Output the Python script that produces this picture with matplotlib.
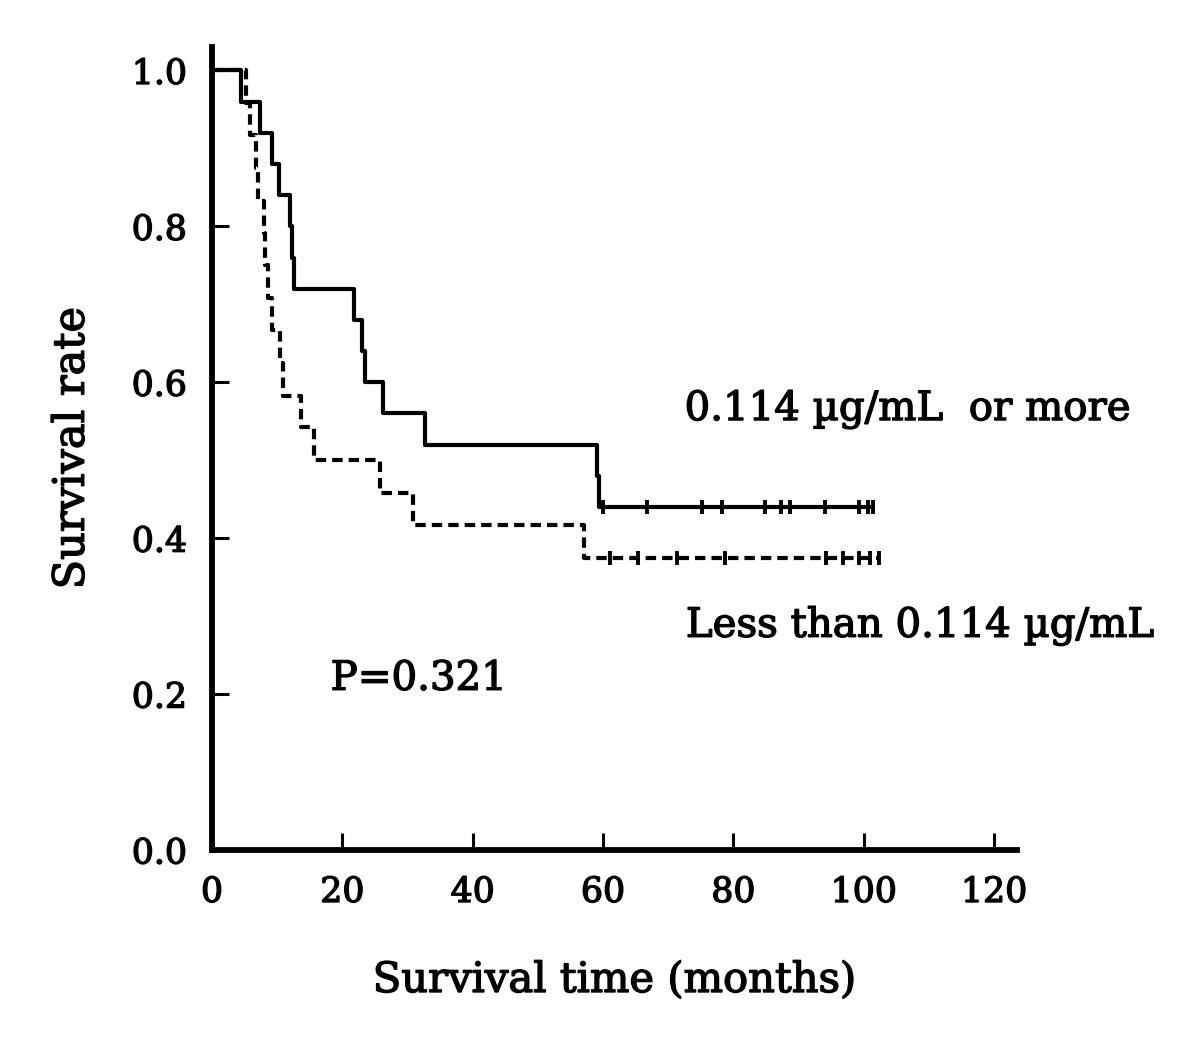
import numpy as np
import matplotlib
matplotlib.use('Agg')
import matplotlib.pyplot as plt
import matplotlib.patheffects as pe

# Kaplan-Meier steps (months, survival)
high_death_t = [0, 4.5, 7.4, 9.2, 10.3, 12.0, 12.3, 12.6, 21.8, 23.0, 23.4, 26.3, 32.7, 59.0, 59.4]
high_surv = [1.0, 0.96, 0.92, 0.88, 0.84, 0.80, 0.76, 0.72, 0.68, 0.64, 0.60, 0.56, 0.52, 0.48, 0.44]
high_censor = [60.0, 66.8, 75.1, 78.2, 84.8, 87.3, 88.7, 94.1, 99.2, 100.6, 101.4]

low_death_t = [0, 5.2, 5.9, 6.7, 7.1, 7.9, 8.2, 8.6, 9.2, 10.5, 10.9, 13.6, 15.7, 25.7, 30.8, 57.0]
low_surv = [1.0, 0.958, 0.917, 0.875, 0.833, 0.792, 0.750, 0.708, 0.667, 0.625, 0.583, 0.542, 0.500,
            0.458, 0.417, 0.375]
low_censor = [61.0, 65.3, 71.4, 78.7, 94.2, 96.8, 99.3, 100.9, 102.4]

x_ticks = [0, 20, 40, 60, 80, 100, 120]
y_ticks = [0.0, 0.2, 0.4, 0.6, 0.8, 1.0]

plt.rcParams['font.family'] = ['DejaVu Serif']
# slightly heavier strokes, the original type is a bit darker than DejaVu Serif
heavy = [pe.withStroke(linewidth=1.0, foreground='black')]

fig = plt.figure(figsize=(12, 10.41), dpi=100)
ax = fig.add_axes([0.1767, 0.1835, 0.8475 - 0.1767, 0.9548 - 0.1835])


def km_line(death_t, surv, censor, dashed):
    t_end = censor[-1]
    xs = list(death_t) + [t_end]
    ys = list(surv) + [surv[-1]]
    line, = ax.step(xs, ys, where='post', color='black', lw=3.0)
    if dashed:
        line.set_dashes((2.5, 1.45))
    ax.plot(censor, [surv[-1]] * len(censor), ls='none', marker='|',
            ms=10, mew=2.8, color='black')


km_line(high_death_t, high_surv, high_censor, False)
km_line(low_death_t, low_surv, low_censor, True)

ax.set_xlim(0, 123.5)
ax.set_ylim(0, 1.03)
ax.set_xticks(x_ticks)
ax.set_yticks(y_ticks)
ax.set_xticklabels([str(v) for v in x_ticks])
ax.set_yticklabels(['%.1f' % v for v in y_ticks])

for s in ['top', 'right']:
    ax.spines[s].set_visible(False)
for s in ['left', 'bottom']:
    ax.spines[s].set_linewidth(4.2)

ax.tick_params(axis='both', direction='in', length=12, width=2.2, labelsize=25, pad=18)
ax.tick_params(axis='y', pad=18)
for lab in ax.get_xticklabels() + ax.get_yticklabels():
    lab.set_path_effects(heavy)

ax.set_xlabel('Survival time (months)', fontsize=30, labelpad=36, path_effects=heavy)
ax.set_ylabel('Survival rate', fontsize=31, labelpad=28, path_effects=heavy)

ax.text(72.5, 0.565, '0.114 µg/mL  or more', fontsize=29, ha='left', va='center', path_effects=heavy)
ax.text(72.7, 0.287, 'Less than 0.114 µg/mL', fontsize=29, ha='left', va='center', path_effects=heavy)
ax.text(18.2, 0.219, 'P=0.321', fontsize=29, ha='left', va='center', path_effects=heavy)

fig.savefig('out.png', dpi=100)
